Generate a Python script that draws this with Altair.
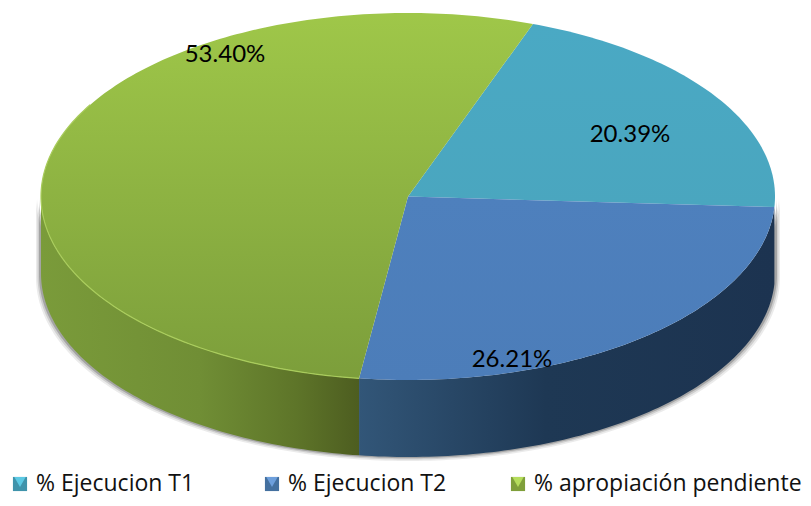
import numpy as np
import pandas as pd
import altair as alt

series = ["% Ejecucion T1", "% Ejecucion T2", "% apropiación pendiente"]
values = [20.39, 26.21, 53.40]
labels = ["20.39%", "26.21%", "53.40%"]
label_x = [630, 512, 225]
label_y = [135, 360, 55]
legend_x = [20, 272, 518]
legend_y = 484
legend_base = 491
top_from = ["#4aa9c4", "#4e80bd", "#9fc749"]
top_to = ["#4aa6bf", "#4c7db9", "#7c9e3b"]
swatch = ["#3f93ab", "#44709f", "#7f9f3a"]
swatch_light = ["#5cc9e4", "#6d9fdc", "#b5dd5c"]

CX, CY, RX, RY, DEPTH = 408.0, 196.5, 367.0, 183.5, 77.0
START = 19.9
XDOM = [8, 803]
YDOM = [498, 8]


def rim(a0, a1):
    n = int(abs(a1 - a0)) + 2
    t = np.radians(np.linspace(a0, a1, n))
    return CX + RX * np.sin(t), CY - RY * np.cos(t)


X = alt.X("x:Q", scale=alt.Scale(domain=XDOM), axis=None)
Y = alt.Y("y:Q", scale=alt.Scale(domain=YDOM), axis=None)
Y2 = alt.Y2("y2:Q")

edges = START + np.concatenate([[0], np.cumsum(values)]) * 3.6


def grad(stops, horizontal=True):
    return alt.LinearGradient(
        gradient="linear",
        stops=[alt.GradientStop(offset=o, color=c) for o, c in stops],
        x1=0, y1=0,
        x2=1 if horizontal else 0,
        y2=0 if horizontal else 1,
    )


def wall(a0, a1, fill):
    xs, ys = rim(a0, a1)
    d = pd.DataFrame({"x": xs, "y": ys, "y2": ys + DEPTH})
    return alt.Chart(d).mark_area(fill=fill, interpolate="linear").encode(x=X, y=Y, y2=Y2)


layers = []
# soft shadow around the lower rim
for ex, grow, op in [(4, 5, 0.08), (2.5, 3.5, 0.12), (1.2, 2, 0.2)]:
    xs, ys = rim(90, 270)
    scale = (RX + grow) / RX
    d = pd.DataFrame({"x": CX + (xs - CX) * scale, "y": ys, "y2": ys + DEPTH + ex})
    layers.append(alt.Chart(d).mark_area(fill="#000000", opacity=op).encode(x=X, y=Y, y2=Y2))

# side walls: blue part is right of the T2/pending boundary, green is left of it
layers.append(wall(edges[1], edges[2], grad([(0, "#325678"), (0.45, "#1e3854"), (1, "#1c3350")])))
layers.append(wall(edges[2], 270, grad([(0, "#7a9b3a"), (0.5, "#708e35"), (0.8, "#5e7529"), (1, "#4d5d20")])))

# top faces
for i, name in enumerate(series):
    xs, ys = rim(edges[i], edges[i + 1])
    px = np.concatenate([[CX], xs, [CX]])
    py = np.concatenate([[CY], ys, [CY]])
    d = pd.DataFrame({"x": px, "y": py, "o": np.arange(len(px))})
    layers.append(
        alt.Chart(d)
        .mark_line(
            filled=True,
            fill=grad([(0, top_from[i]), (1, top_to[i])], horizontal=False),
            strokeWidth=0,
        )
        .encode(x=X, y=Y, order="o:Q")
    )

# light rim on the green front edge
xs, ys = rim(edges[2], 300)
layers.append(
    alt.Chart(pd.DataFrame({"x": xs, "y": ys, "o": np.arange(len(xs))}))
    .mark_line(color="#a9cc5c", strokeWidth=1.2)
    .encode(x=X, y=Y, order="o:Q")
)

# value labels
lab = pd.DataFrame({"x": label_x, "y": label_y, "t": labels})
layers.append(
    alt.Chart(lab)
    .mark_text(font="Lato", fontSize=24, color="#000000", align="center", baseline="middle")
    .encode(x=X, y=Y, text="t:N")
)

# legend
leg = pd.DataFrame({"x": legend_x, "y": [legend_y] * 3, "tx": [v + 16 for v in legend_x],
                    "ty": [legend_base] * 3, "t": series, "c": swatch, "l": swatch_light})
layers.append(
    alt.Chart(leg).mark_square(size=200, opacity=1, filled=True)
    .encode(x=X, y=Y, color=alt.Color("c:N", scale=None))
)
layers.append(
    alt.Chart(leg).transform_calculate(ys="datum.y - 2")
    .mark_point(shape="triangle-down", size=130, filled=True, opacity=1)
    .encode(x=X, y=alt.Y("ys:Q", scale=alt.Scale(domain=YDOM), axis=None),
            color=alt.Color("l:N", scale=None))
)
layers.append(
    alt.Chart(leg)
    .mark_text(font="Open Sans", fontSize=23, color="#111111", align="left", baseline="alphabetic")
    .encode(x=alt.X("tx:Q", scale=alt.Scale(domain=XDOM), axis=None),
            y=alt.Y("ty:Q", scale=alt.Scale(domain=YDOM), axis=None), text="t:N")
)

chart = (
    alt.layer(*layers)
    .properties(width=795, height=490, padding=0, background="#ffffff",
                autosize=alt.AutoSizeParams(type="none"))
    .configure_view(stroke=None, strokeWidth=0)
)
chart.save("out.html", embed_options={"renderer": "svg", "actions": False})
